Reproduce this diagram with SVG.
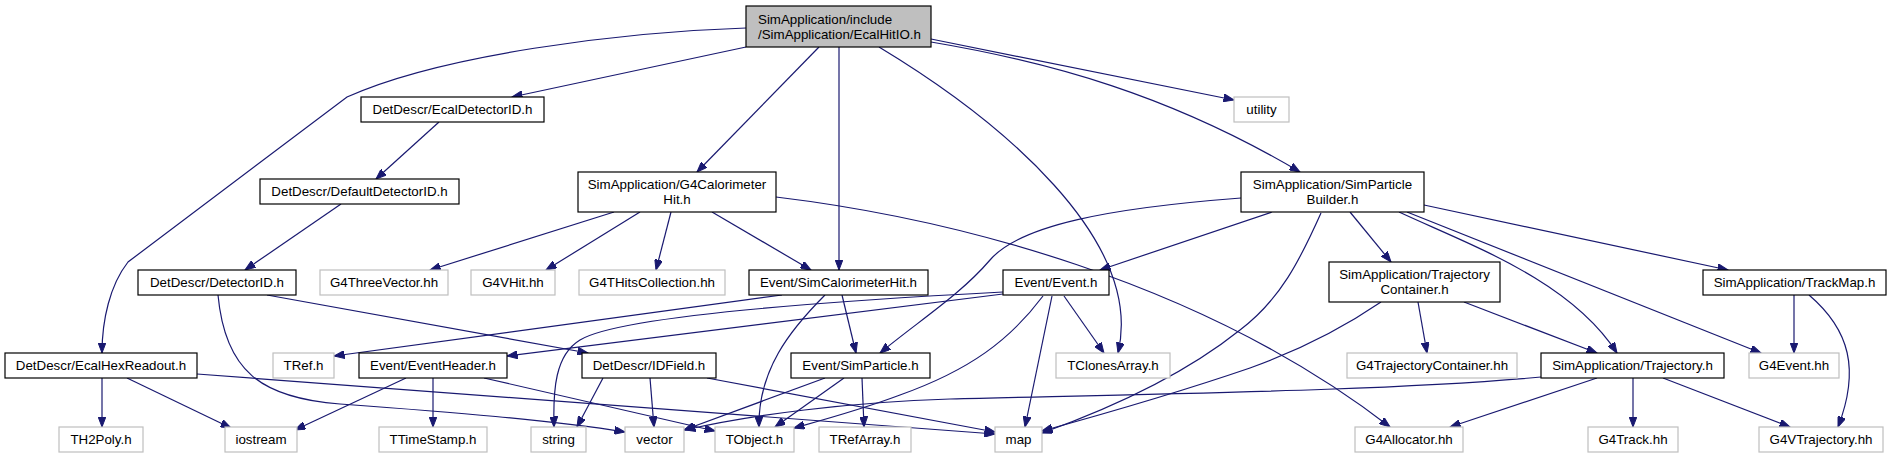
<svg xmlns="http://www.w3.org/2000/svg" width="1892" height="459" viewBox="0 0 1892 459">
<style>
text{font-family:"Liberation Sans",Arial,sans-serif;font-size:13.33px;fill:#000}
.c{text-anchor:middle}
.doc{fill:#fff;stroke:#000;stroke-width:1.2}
.und{fill:#fff;stroke:#bfbfbf;stroke-width:1.2}
.main{fill:#bfbfbf;stroke:#000;stroke-width:1.2}
#edges path{fill:none;stroke:#191970;stroke-width:1.2;marker-end:url(#ah)}
</style>
<defs>
<marker id="ah" markerUnits="userSpaceOnUse" markerWidth="11" markerHeight="8" refX="10.5" refY="4" orient="auto">
<path d="M0,0 L10.5,4 L0,8 z" fill="#191970" stroke="#191970" stroke-width="1"/>
</marker>
</defs>
<rect width="1892" height="459" fill="#fff"/>
<g id="edges">
<path d="M746,28 C620,32 440,55 347,97 L128,262 C110,285 102,320 102,353"/>
<path d="M746,47 L512,97"/>
<path d="M819,47 L697,172"/>
<path d="M839,47 L839,270"/>
<path d="M879,47 C1000,120 1145,240 1118,353"/>
<path d="M931,39 L1234,100"/>
<path d="M931,42 C1050,62 1170,95 1300,172"/>
<path d="M439,122 L376,179"/>
<path d="M341,204 L245,270"/>
<path d="M267,295 L588,353"/>
<path d="M218,295 C225,370 260,398 340,404 C450,412 550,420 625,432"/>
<path d="M614,212 L430,270"/>
<path d="M640,212 L546,270"/>
<path d="M671,212 L656,270"/>
<path d="M712,212 L811,270"/>
<path d="M776,197 C950,218 1200,280 1390,427"/>
<path d="M782,295 L334,356"/>
<path d="M825,295 C790,330 758,370 759,427"/>
<path d="M842,295 L856,353"/>
<path d="M1272,212 L1100,270"/>
<path d="M1241,198 C1110,208 1020,225 990,260 C960,295 920,320 880,353"/>
<path d="M1321,213 C1300,260 1280,300 1240,330 C1190,370 1120,405 1042,433"/>
<path d="M1350,212 L1391,262"/>
<path d="M1399,212 C1470,245 1570,280 1617,353"/>
<path d="M1407,212 L1761,353"/>
<path d="M1424,205 L1728,270"/>
<path d="M1003,294 L507,356"/>
<path d="M1003,292 C850,300 620,315 580,340 C555,355 553,390 554,427"/>
<path d="M1043,296 C1010,340 970,370 900,395 C860,410 830,418 794,428"/>
<path d="M1052,296 L1025,427"/>
<path d="M1064,296 L1104,353"/>
<path d="M102,378 L102,427"/>
<path d="M127,378 L231,428"/>
<path d="M197,374 L995,434"/>
<path d="M406,378 L295,430"/>
<path d="M433,378 L433,427"/>
<path d="M484,378 L715,431"/>
<path d="M603,378 L577,427"/>
<path d="M650,378 L654,427"/>
<path d="M707,378 L995,432"/>
<path d="M825,378 L684,430"/>
<path d="M844,378 L775,427"/>
<path d="M862,378 L864,427"/>
<path d="M1418,302 L1427,353"/>
<path d="M1464,302 L1597,353"/>
<path d="M1381,302 C1340,330 1300,350 1250,368 C1180,392 1100,415 1042,431"/>
<path d="M1794,295 L1794,353"/>
<path d="M1809,295 C1850,330 1860,370 1838,427"/>
<path d="M1541,377 C1400,390 1200,393 950,399 C850,402 750,415 685,430"/>
<path d="M1597,378 L1450,427"/>
<path d="M1633,378 L1633,427"/>
<path d="M1663,378 L1790,427"/>
</g>
<g id="n_EcalHitIO"><rect class="main" x="746" y="6" width="185" height="41"/><text x="758" y="23.5">SimApplication/include</text><text x="758" y="38.5">/SimApplication/EcalHitIO.h</text></g>
<g id="n_EcalDetectorID"><rect class="doc" x="361" y="97" width="183" height="25"/><text class="c" x="452.5" y="114">DetDescr/EcalDetectorID.h</text></g>
<g id="n_utility"><rect class="und" x="1234" y="97" width="55" height="25"/><text class="c" x="1261.5" y="114">utility</text></g>
<g id="n_DefaultDetectorID"><rect class="doc" x="260" y="179" width="199" height="25"/><text class="c" x="359.5" y="196">DetDescr/DefaultDetectorID.h</text></g>
<g id="n_G4CalorimeterHit"><rect class="doc" x="578" y="172" width="198" height="40"/><text class="c" x="677" y="188.5">SimApplication/G4Calorimeter</text><text class="c" x="677" y="203.5">Hit.h</text></g>
<g id="n_SimParticleBuilder"><rect class="doc" x="1241" y="172" width="183" height="40"/><text class="c" x="1332.5" y="188.5">SimApplication/SimParticle</text><text class="c" x="1332.5" y="203.5">Builder.h</text></g>
<g id="n_DetectorID"><rect class="doc" x="138" y="270" width="158" height="25"/><text class="c" x="217" y="287">DetDescr/DetectorID.h</text></g>
<g id="n_G4ThreeVector"><rect class="und" x="320" y="270" width="128" height="25"/><text class="c" x="384" y="287">G4ThreeVector.hh</text></g>
<g id="n_G4VHit"><rect class="und" x="471" y="270" width="84" height="25"/><text class="c" x="513" y="287">G4VHit.hh</text></g>
<g id="n_G4THitsCollection"><rect class="und" x="579" y="270" width="146" height="25"/><text class="c" x="652" y="287">G4THitsCollection.hh</text></g>
<g id="n_SimCalorimeterHit"><rect class="doc" x="749" y="270" width="179" height="25"/><text class="c" x="838.5" y="287">Event/SimCalorimeterHit.h</text></g>
<g id="n_Event"><rect class="doc" x="1003" y="270" width="106" height="25"/><text class="c" x="1056" y="287">Event/Event.h</text></g>
<g id="n_TrajectoryContainer"><rect class="doc" x="1329" y="262" width="171" height="40"/><text class="c" x="1414.5" y="278.5">SimApplication/Trajectory</text><text class="c" x="1414.5" y="293.5">Container.h</text></g>
<g id="n_TrackMap"><rect class="doc" x="1703" y="270" width="183" height="25"/><text class="c" x="1794.5" y="287">SimApplication/TrackMap.h</text></g>
<g id="n_EcalHexReadout"><rect class="doc" x="5" y="353" width="192" height="25"/><text class="c" x="101" y="370">DetDescr/EcalHexReadout.h</text></g>
<g id="n_TRef"><rect class="und" x="273" y="353" width="61" height="25"/><text class="c" x="303.5" y="370">TRef.h</text></g>
<g id="n_EventHeader"><rect class="doc" x="359" y="353" width="148" height="25"/><text class="c" x="433" y="370">Event/EventHeader.h</text></g>
<g id="n_IDField"><rect class="doc" x="582" y="353" width="134" height="25"/><text class="c" x="649" y="370">DetDescr/IDField.h</text></g>
<g id="n_SimParticle"><rect class="doc" x="791" y="353" width="139" height="25"/><text class="c" x="860.5" y="370">Event/SimParticle.h</text></g>
<g id="n_TClonesArray"><rect class="und" x="1056" y="353" width="114" height="25"/><text class="c" x="1113" y="370">TClonesArray.h</text></g>
<g id="n_G4TrajectoryContainer"><rect class="und" x="1347" y="353" width="170" height="25"/><text class="c" x="1432" y="370">G4TrajectoryContainer.hh</text></g>
<g id="n_Trajectory"><rect class="doc" x="1541" y="353" width="183" height="25"/><text class="c" x="1632.5" y="370">SimApplication/Trajectory.h</text></g>
<g id="n_G4Event"><rect class="und" x="1749" y="353" width="90" height="25"/><text class="c" x="1794" y="370">G4Event.hh</text></g>
<g id="n_TH2Poly"><rect class="und" x="59" y="427" width="84" height="25"/><text class="c" x="101" y="444">TH2Poly.h</text></g>
<g id="n_iostream"><rect class="und" x="225" y="427" width="72" height="25"/><text class="c" x="261" y="444">iostream</text></g>
<g id="n_TTimeStamp"><rect class="und" x="379" y="427" width="108" height="25"/><text class="c" x="433" y="444">TTimeStamp.h</text></g>
<g id="n_string"><rect class="und" x="531" y="427" width="55" height="25"/><text class="c" x="558.5" y="444">string</text></g>
<g id="n_vector"><rect class="und" x="625" y="427" width="59" height="25"/><text class="c" x="654.5" y="444">vector</text></g>
<g id="n_TObject"><rect class="und" x="715" y="427" width="79" height="25"/><text class="c" x="754.5" y="444">TObject.h</text></g>
<g id="n_TRefArray"><rect class="und" x="819" y="427" width="92" height="25"/><text class="c" x="865" y="444">TRefArray.h</text></g>
<g id="n_map"><rect class="und" x="995" y="427" width="47" height="25"/><text class="c" x="1018.5" y="444">map</text></g>
<g id="n_G4Allocator"><rect class="und" x="1355" y="427" width="108" height="25"/><text class="c" x="1409" y="444">G4Allocator.hh</text></g>
<g id="n_G4Track"><rect class="und" x="1588" y="427" width="90" height="25"/><text class="c" x="1633" y="444">G4Track.hh</text></g>
<g id="n_G4VTrajectory"><rect class="und" x="1759" y="427" width="124" height="25"/><text class="c" x="1821" y="444">G4VTrajectory.hh</text></g>
</svg>
